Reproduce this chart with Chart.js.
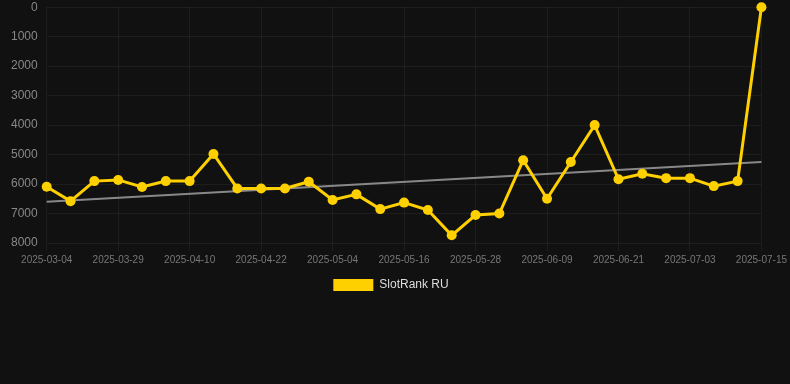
<!DOCTYPE html>
<html>
<head>
<meta charset="utf-8">
<script src="https://cdn.jsdelivr.net/npm/chart.js@4.4.1/dist/chart.umd.min.js"></script>
<style>
  html, body { margin: 0; padding: 0; background: #111111; overflow: hidden; }
  #wrap { width: 790px; height: 310px; position: relative; margin-top: -9px; }
</style>
</head>
<body>
<div id="wrap"><canvas id="rankChart"></canvas></div>
<script>
// dates of each sample
const dates = [
    "2025-03-04", "2025-03-21", "2025-03-25", "2025-03-29", "2025-04-02", "2025-04-06",
    "2025-04-10", "2025-04-14", "2025-04-18", "2025-04-22", "2025-04-26", "2025-04-30",
    "2025-05-04", "2025-05-08", "2025-05-12", "2025-05-16", "2025-05-20", "2025-05-24",
    "2025-05-28", "2025-06-01", "2025-06-05", "2025-06-09", "2025-06-13", "2025-06-17",
    "2025-06-21", "2025-06-25", "2025-06-29", "2025-07-03", "2025-07-07", "2025-07-11",
    "2025-07-15"
];

// rank values (lower is better, axis reversed)
const rankRU = [
    6090, 6580, 5900, 5860, 6100, 5900,
    5900, 4980, 6150, 6150, 6150, 5920,
    6540, 6350, 6850, 6630, 6880, 7740,
    7050, 7000, 5190, 6500, 5250, 4000,
    5840, 5650, 5800, 5800, 6070, 5900,
    0
];

// trend line end points only, the rest is bridged
const trendRU = [6600].concat(new Array(29).fill(null), [5250]);

const yTicks = [0, 1000, 2000, 3000, 4000, 5000, 6000, 7000, 8000];

const ctx = document.getElementById('rankChart').getContext('2d');
const rankChart = new Chart(ctx, {
    type: 'line',
    data: {
        labels: dates,
        datasets: [
            {
                label: "SlotRank RU",
                data: rankRU,
                borderColor: '#ffd000',
                backgroundColor: '#ffd000',
                borderWidth: 3,
                pointRadius: 5,
                pointHoverRadius: 6,
                pointBackgroundColor: '#ffd000',
                pointBorderWidth: 0,
                tension: 0,
                clip: false
            },
            {
                label: "trend",
                data: trendRU,
                borderColor: 'rgba(150, 150, 150, 0.9)',
                borderWidth: 2,
                pointRadius: 0,
                spanGaps: true,
                tension: 0
            }
        ]
    },
    options: {
        responsive: true,
        maintainAspectRatio: false,
        animation: false,
        layout: { padding: { left: 2 } },
        scales: {
            x: {
                grid: { color: 'rgba(255, 255, 255, 0.05)', drawTicks: true, tickLength: 8 },
                border: { display: false },
                ticks: {
                    color: '#777',
                    font: { family: 'Arial, "Liberation Sans", sans-serif', size: 10 },
                    maxRotation: 0,
                    autoSkip: true,
                    maxTicksLimit: 11,
                    padding: 3
                }
            },
            y: {
                reverse: true,
                min: 0,
                max: 8000,
                afterBuildTicks: axis => { axis.ticks = yTicks.map(v => ({ value: v })); },
                grid: { color: 'rgba(255, 255, 255, 0.05)', drawTicks: false },
                border: { display: false },
                ticks: {
                    color: '#888',
                    font: { family: 'Arial, "Liberation Sans", sans-serif', size: 12 },
                    padding: 9,
                    callback: v => String(v)
                }
            }
        },
        plugins: {
            legend: {
                position: 'bottom',
                labels: {
                    filter: item => item.datasetIndex === 0,
                    color: '#ddd',
                    font: { family: 'Arial, "Liberation Sans", sans-serif', size: 12 },
                    boxWidth: 40,
                    boxHeight: 12,
                    padding: 10,
                    // trailing spaces nudge the centred item a little to the left
                    generateLabels: chart => Chart.defaults.plugins.legend.labels.generateLabels(chart)
                        .map(l => Object.assign(l, { lineWidth: 0, text: l.text + '   ' }))
                }
            },
            tooltip: { enabled: false }
        }
    }
});
</script>
</body>
</html>
